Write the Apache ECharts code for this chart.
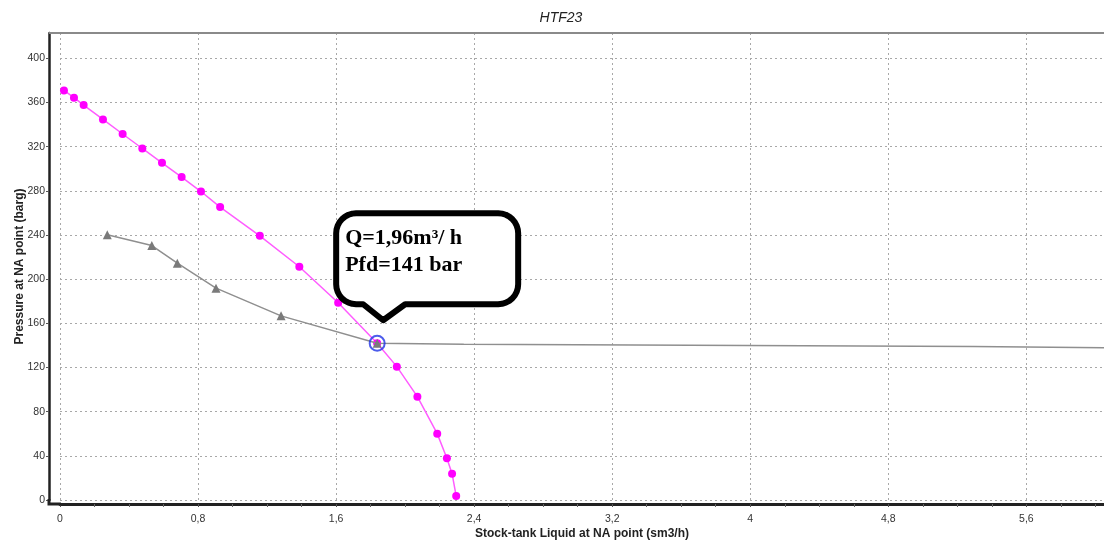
<!DOCTYPE html>
<html>
<head>
<meta charset="utf-8">
<script src="https://cdn.jsdelivr.net/npm/echarts@6/dist/echarts.min.js"></script>
<style>
html,body{margin:0;padding:0;background:#fff;}
#c{width:1104px;height:544px;}
</style>
</head>
<body>
<div id="c"></div>
<script>
// ---- data ----
const chartTitle = 'HTF23';
const xAxisName = 'Stock-tank Liquid at NA point (sm3/h)';
const yAxisName = 'Pressure at NA point (barg)';

// IPR curve (magenta circles)
const iprX = [0.023, 0.081, 0.137, 0.249, 0.363, 0.477, 0.591, 0.705, 0.817, 0.928, 1.158, 1.387, 1.612, 1.838, 1.952, 2.071, 2.186, 2.242, 2.272, 2.296];
const iprY = [371, 364.4, 357.7, 344.7, 331.5, 318.4, 305.4, 292.5, 279.4, 265.3, 239.3, 211.3, 178.6, 142.0, 120.8, 93.6, 60.1, 37.8, 23.8, 3.6];

// VLP curve (grey triangles, then plain line)
const vlpX = [0.274, 0.532, 0.680, 0.904, 1.281, 1.838, 2.34, 5.29, 6.10];
const vlpY = [240.2, 230.5, 214.5, 191.9, 166.8, 142.0, 141.0, 139.0, 137.8];
const vlpMarkedCount = 6;

// operating point (intersection)
const opPoint = [1.838, 142.0];
const calloutLines = ['Q=1,96m³/ h', 'Pfd=141 bar'];

// axes
const xMin = 0, xMax = 6.05, xStep = 0.8;
const yMin = 0, yMax = 423, yStep = 40;

// ---- chart ----
const chart = echarts.init(document.getElementById('c'), null, {renderer: 'canvas'});

function fmtTick(step) {
  return function (v) {
    const k = Math.round(v / step);
    if (Math.abs(v - k * step) > 1e-6) return '';
    return String(+(k * step).toFixed(2)).replace('.', ',');
  };
}

const labelFont = "'Liberation Sans', Arial, sans-serif";
const nameFont = "'Liberation Sans Narrow', 'Arial Narrow', 'Liberation Sans', sans-serif";
const gridDot = {color: '#a8a8a8', width: 1, type: [2, 3]};

const vlpData = vlpX.map((x, i) => (i < vlpMarkedCount)
  ? {value: [x, vlpY[i]]}
  : {value: [x, vlpY[i]], symbol: 'none'});

chart.setOption({
  animation: false,
  backgroundColor: '#fff',
  title: {
    text: chartTitle,
    left: 556, top: 6,
    textAlign: 'center',
    textStyle: {fontFamily: labelFont, fontStyle: 'italic', fontWeight: 'normal', fontSize: 14, color: '#222'}
  },
  grid: {left: 60, right: 0, top: 33, bottom: 44, containLabel: false, outerBoundsMode: 'none'},
  xAxis: {
    type: 'value', min: xMin, max: xMax, interval: xStep, offset: 4,
    name: xAxisName, nameLocation: 'middle', nameGap: 24, nameMoveOverlap: false,
    nameTextStyle: {fontFamily: nameFont, fontWeight: 'bold', fontSize: 12, color: '#222'},
    axisLine: {show: true, onZero: false, lineStyle: {color: '#222', width: 3}},
    axisTick: {show: true, length: 3, lineStyle: {color: '#555'}},
    minorTick: {show: true, splitNumber: 4, length: 3, lineStyle: {color: '#666'}},
    minorSplitLine: {show: false},
    axisLabel: {formatter: fmtTick(xStep), fontFamily: labelFont, fontSize: 10.5, color: '#333', margin: 10, showMaxLabel: false},
    splitLine: {show: true, lineStyle: gridDot}
  },
  yAxis: {
    type: 'value', min: yMin, max: yMax, interval: yStep, offset: 11,
    name: yAxisName, nameLocation: 'middle', nameGap: 23, nameRotate: 90, nameMoveOverlap: false,
    nameTextStyle: {fontFamily: nameFont, fontWeight: 'bold', fontSize: 12, color: '#222'},
    axisLine: {show: true, onZero: false, lineStyle: {color: '#222', width: 2.5}},
    axisTick: {show: true, length: 3, lineStyle: {color: '#555'}},
    axisLabel: {formatter: fmtTick(yStep), fontFamily: labelFont, fontSize: 10.5, color: '#333', margin: 4, showMaxLabel: false},
    splitLine: {show: true, lineStyle: gridDot}
  },
  series: [
    {
      name: 'IPR', type: 'line',
      data: iprX.map((x, i) => [x, iprY[i]]),
      symbol: 'circle', symbolSize: 8, showAllSymbol: true,
      itemStyle: {color: '#ff00ff'},
      lineStyle: {color: '#ff5cff', width: 1.5},
      z: 3
    },
    {
      name: 'VLP', type: 'line',
      data: vlpData,
      symbol: 'triangle', symbolSize: 9, showAllSymbol: true,
      itemStyle: {color: '#7a7a7a'},
      lineStyle: {color: '#8f8f8f', width: 1.5},
      z: 4
    },
    {
      name: 'Operating point', type: 'scatter',
      data: [opPoint],
      symbol: 'circle', symbolSize: 15,
      itemStyle: {color: 'rgba(0,0,0,0)', borderColor: '#1f33e6', borderWidth: 2},
      z: 6
    }
  ]
});

// callout anchored to operating point
const p = chart.convertToPixel({seriesIndex: 2}, opPoint);
const px = p[0], py = p[1];
const L = px - 41, R = px + 141, T = py - 130, B = py - 39, r = 20;
const tipX = px + 6, tipY = py - 23, bl = px - 14, br = px + 28;

function arc(cx, cy, rad, a0, a1, n) {
  const pts = [];
  for (let i = 0; i <= n; i++) {
    const a = a0 + (a1 - a0) * i / n;
    pts.push([cx + rad * Math.cos(a), cy + rad * Math.sin(a)]);
  }
  return pts;
}
const PI = Math.PI;
let bubble = [];
bubble = bubble.concat(arc(L + r, T + r, r, PI, 1.5 * PI, 8));      // top-left
bubble = bubble.concat(arc(R - r, T + r, r, 1.5 * PI, 2 * PI, 8));  // top-right
bubble = bubble.concat(arc(R - r, B - r, r, 0, 0.5 * PI, 8));       // bottom-right
bubble.push([br, B], [tipX, tipY], [bl, B]);
bubble = bubble.concat(arc(L + r, B - r, r, 0.5 * PI, PI, 8));      // bottom-left

const gx0 = chart.convertToPixel({xAxisIndex: 0}, xMin);
const gy0 = chart.convertToPixel({yAxisIndex: 0}, yMin);
const gyTop = chart.convertToPixel({yAxisIndex: 0}, yMax);

chart.setOption({
  graphic: [
    {type: 'line', shape: {x1: gx0 - 11, y1: gyTop, x2: 1104, y2: gyTop}, style: {stroke: '#8a8a8a', lineWidth: 2}, z: 10},
    {type: 'polyline', shape: {points: [[gx0 - 11, gy0 - 1], [gx0 - 11, gy0 + 4], [gx0 + 1, gy0 + 4]]}, style: {stroke: '#222', lineWidth: 3, fill: null}, z: 10},
    {type: 'polygon', shape: {points: bubble}, style: {fill: '#fff', stroke: '#000', lineWidth: 6, lineJoin: 'round'}, z: 20},
    {type: 'text', x: L + 9, y: T + 12, z: 21,
      style: {text: calloutLines.join('\n'), fill: '#000', font: "bold 22px 'Liberation Serif', 'Times New Roman', serif", lineHeight: 27}}
  ]
});
</script>
</body>
</html>
